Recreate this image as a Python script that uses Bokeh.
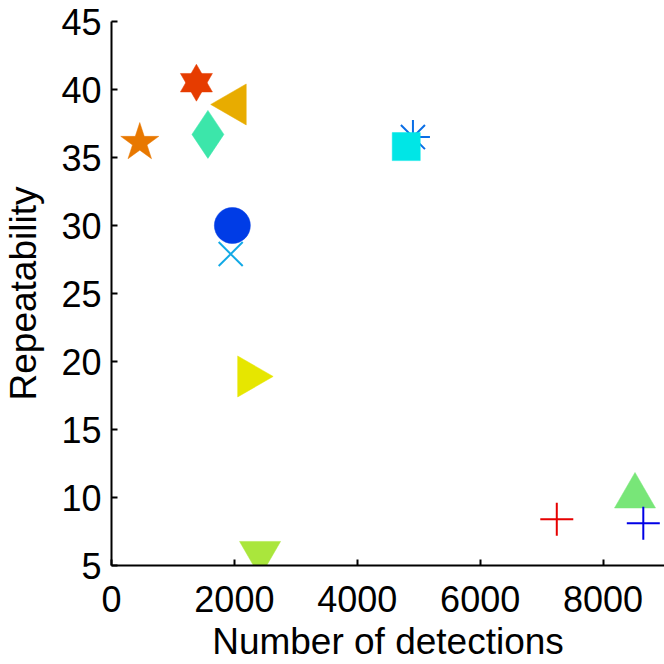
import math
from bokeh.plotting import figure
from bokeh.models import Range1d, FixedTicker
from bokeh.embed import file_html
from bokeh.resources import INLINE

# data (number of detections, repeatability) per method
det = [460, 1382, 2000, 1569, 1967, 1940, 4797, 4906, 2246, 2418, 8520, 7247, 8655]
rep = [36.1, 40.5, 38.9, 36.7, 30.0, 27.9, 35.8, 36.5, 18.9, 5.9, 10.1, 8.4, 8.1]
colors = ["#E87800", "#E63C00", "#E8AC00", "#3CE6AA", "#003CE6", "#14AAE6",
          "#00E6E6", "#0A6EE6", "#E6E600", "#AAE63C", "#78E678", "#E60000", "#0000E6"]
x_ticks = [0, 2000, 4000, 6000, 8000]
y_ticks = [5, 10, 15, 20, 25, 30, 35, 40, 45]

# marker styles, in data order
styles = [
    [("star", 40, 0.0, True)],
    [("triangle", 32, 0.0, True), ("inverted_triangle", 32, 0.0, True)],
    [("triangle", 41, math.pi / 2, True)],
    [("diamond", 48, 0.0, True)],
    [("circle", 36, 0.0, True)],
    [("x", 34, 0.0, False)],
    [("square", 28, 0.0, True)],
    [("asterisk", 34, 0.0, False)],
    [("triangle", 41, -math.pi / 2, True)],
    [("inverted_triangle", 41, 0.0, True)],
    [("triangle", 41, 0.0, True)],
    [("cross", 33, 0.0, False)],
    [("cross", 33, 0.0, False)],
]
# asterisk is drawn before the square
draw_idx = [0, 1, 2, 3, 4, 5, 7, 6, 8, 9, 10, 11, 12]

p = figure(width=664, height=664, x_range=Range1d(0, 9000), y_range=Range1d(5, 45),
           output_backend="svg", toolbar_location=None,
           min_border_left=111, min_border_right=0, min_border_top=21, min_border_bottom=97)
p.grid.visible = False
p.outline_line_color = None
p.background_fill_color = "white"
p.border_fill_color = "white"

for di in draw_idx:
    for (m, s, ang, filled) in styles[di]:
        if filled:
            p.scatter([det[di]], [rep[di]], marker=m, size=s, angle=ang,
                      fill_color=colors[di], line_color=colors[di], line_width=0.5)
        else:
            p.scatter([det[di]], [rep[di]], marker=m, size=s, angle=ang,
                      line_color=colors[di], line_width=2)

p.xaxis.ticker = FixedTicker(ticks=x_ticks)
p.yaxis.ticker = FixedTicker(ticks=y_ticks)
p.xaxis.axis_label = "Number of detections"
p.yaxis.axis_label = "Repeatability"
for ax in (p.xaxis[0], p.yaxis[0]):
    ax.axis_line_width = 2
    ax.axis_line_color = "black"
    ax.major_tick_in = 6
    ax.major_tick_out = 0
    ax.major_tick_line_width = 2
    ax.minor_tick_line_color = None
    ax.major_label_text_font = "Liberation Sans"
    ax.major_label_text_font_size = "36px"
    ax.major_label_text_color = "black"
    ax.axis_label_text_font = "Liberation Sans"
    ax.axis_label_text_font_size = "37px"
    ax.axis_label_text_font_style = "normal"
    ax.axis_label_text_color = "black"
p.xaxis.major_label_standoff = 20
p.xaxis.axis_label_standoff = 6
p.yaxis.major_label_standoff = 10
p.yaxis.axis_label_standoff = 14

open("out.html", "w").write(file_html(p, INLINE))
